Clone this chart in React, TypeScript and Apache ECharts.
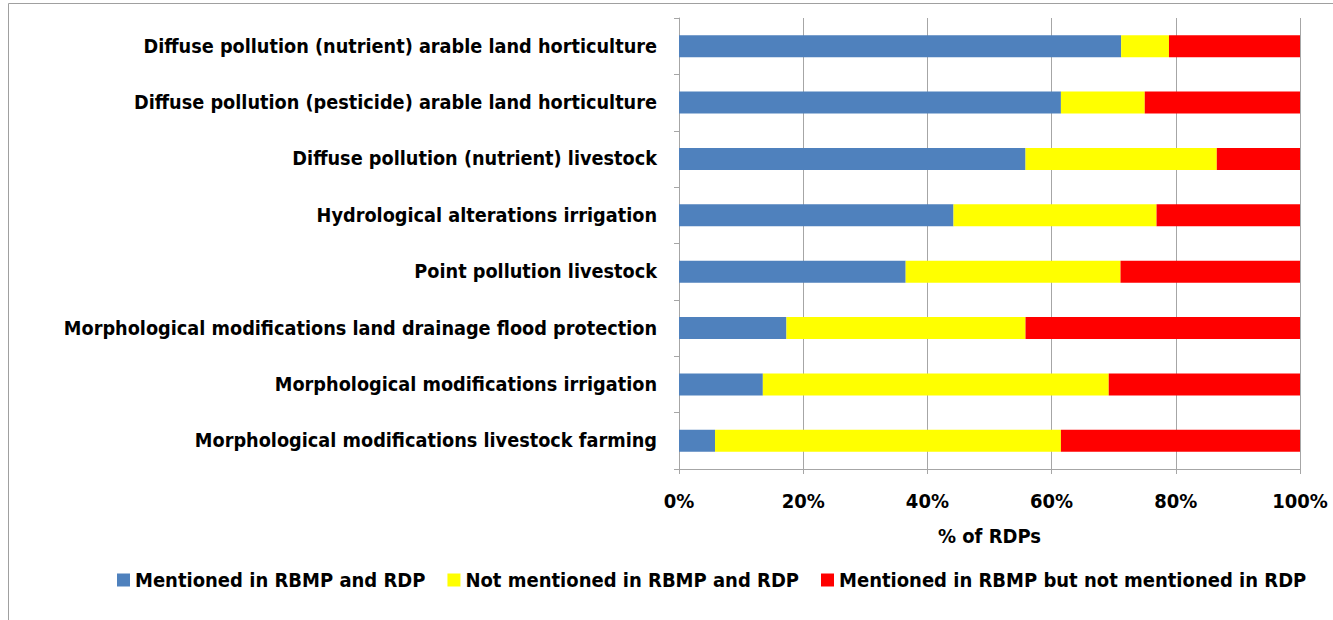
import React, { useEffect, useRef } from "react";
import * as echarts from "echarts";

const categories = [
  "Diffuse pollution (nutrient) arable land horticulture",
  "Diffuse pollution (pesticide) arable land horticulture",
  "Diffuse pollution (nutrient) livestock",
  "Hydrological alterations irrigation",
  "Point pollution livestock",
  "Morphological modifications land drainage flood protection",
  "Morphological modifications irrigation",
  "Morphological modifications livestock farming",
];
const mentionedBoth = [71.2, 61.5, 55.8, 44.2, 36.5, 17.3, 13.5, 5.8];
const notMentioned = [7.7, 13.5, 30.8, 32.7, 34.6, 38.5, 55.7, 55.7];
const rbmpOnly = [21.1, 25.0, 13.4, 23.1, 28.9, 44.2, 30.8, 38.5];
const seriesNames = [
  "Mentioned in RBMP and RDP",
  "Not mentioned in RBMP and RDP",
  "Mentioned in RBMP but not mentioned in RDP",
];
const xTicks = { min: 0, max: 100, interval: 20 };

const FONT = "'DejaVu Sans Condensed', 'Liberation Sans', sans-serif";

export default function App() {
  const ref = useRef<HTMLDivElement>(null);
  useEffect(() => {
    if (!ref.current) return;
    const chart = echarts.init(ref.current, undefined, { renderer: "svg" });
    const textStyle = { fontFamily: FONT, fontWeight: "bold" as const, fontSize: 20, color: "#000" };
    chart.setOption({
      animation: false,
      textStyle: { fontFamily: FONT },
      graphic: [
        {
          type: "rect",
          shape: { x: 8.5, y: 3.5, width: 1400, height: 700 },
          style: { fill: "none", stroke: "#a0a0a0", lineWidth: 1 },
          silent: true,
        },
      ],
      grid: { left: 679, right: 33, top: 18, bottom: 151, containLabel: false },
      legend: {
        data: seriesNames,
        bottom: 25,
        left: 112,
        itemWidth: 13,
        itemHeight: 13,
        itemGap: 22,
        icon: "rect",
        textStyle: { ...textStyle },
      },
      xAxis: {
        type: "value",
        min: xTicks.min,
        max: xTicks.max,
        interval: xTicks.interval,
        name: "% of RDPs",
        nameLocation: "middle",
        nameGap: 57,
        nameTextStyle: textStyle,
        axisLabel: { ...textStyle, formatter: "{value}%", margin: 22 },
        axisLine: { show: true, lineStyle: { color: "#a6a6a6" } },
        axisTick: { show: true, length: 5, lineStyle: { color: "#a6a6a6" } },
        splitLine: { show: true, lineStyle: { color: "#a6a6a6", width: 1 } },
      },
      yAxis: {
        type: "category",
        data: categories,
        inverse: true,
        axisLabel: { ...textStyle, fontSize: 19.7, margin: 22 },
        axisLine: { show: true, lineStyle: { color: "#a6a6a6" } },
        axisTick: { show: true, length: 5, alignWithLabel: false, lineStyle: { color: "#a6a6a6" } },
        splitLine: { show: false },
      },
      series: [
        { name: seriesNames[0], type: "bar", stack: "total", data: mentionedBoth, barWidth: 22, itemStyle: { color: "#4f81bd" } },
        { name: seriesNames[1], type: "bar", stack: "total", data: notMentioned, barWidth: 22, itemStyle: { color: "#ffff00" } },
        { name: seriesNames[2], type: "bar", stack: "total", data: rbmpOnly, barWidth: 22, itemStyle: { color: "#ff0000" } },
      ],
    });
    return () => chart.dispose();
  }, []);
  return (
    <div
      ref={ref}
      style={{ position: "absolute", left: 0, top: 0, width: 1333, height: 620, background: "#fff" }}
    />
  );
}
